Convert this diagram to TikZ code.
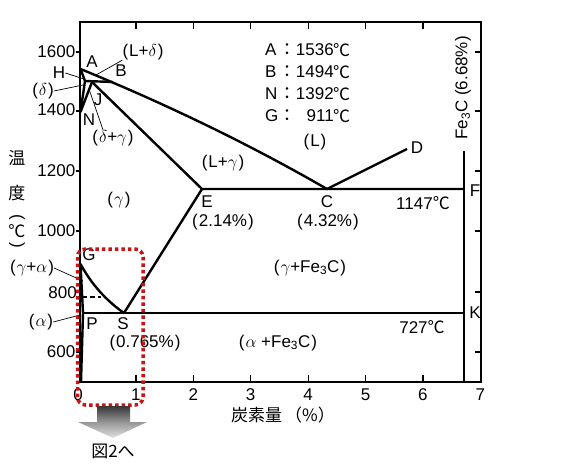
\documentclass[tikz,border=0pt]{standalone}
\usepackage{fontspec}
\setmainfont{Liberation Sans}
\newfontfamily\jp{Noto Sans CJK JP}
\definecolor{dred}{RGB}{200,20,20}
\definecolor{shaftTop}{RGB}{55,55,55}
\definecolor{shaftBot}{RGB}{150,150,150}
\definecolor{headTop}{RGB}{150,150,150}
\definecolor{headBot}{RGB}{225,225,225}
\begin{document}
\begin{tikzpicture}[x=1pt,y=-1pt,
  lbl/.style={inner sep=0pt, font=\fontsize{17}{19}\selectfont},
  jlbl/.style={inner sep=0pt, font=\fontsize{17}{19}\selectfont\jp},
  phase/.style={line width=2.4pt, line join=round},
  frame/.style={line width=2pt},
  tickmark/.style={line width=1.2pt},
  leader/.style={line width=0.7pt},
  atwo/.style={line width=1.3pt, dash pattern=on 5pt off 3pt},
  reddot/.style={draw=dred, line width=3.5pt, dash pattern=on 3.5pt off 3pt, rounded corners=8pt}]
\fill[white] (0,0) rectangle (565,471);
\useasboundingbox (0,0) rectangle (565,471);

% frame and ticks
\draw[frame] (79.5,22) rectangle (480.5,382);
\foreach \k in {1,...,6} {
  \draw[tickmark] ({78.5+57.4*\k},382) -- ++(0,-7);
  \draw[tickmark] ({78.5+57.4*\k},22) -- ++(0,7);
}
\foreach \yy in {52,111,171,231,292,352} {
  \draw[tickmark] (75.5,\yy) -- (79.5,\yy);
  \draw[tickmark] (480.5,\yy) -- (474.5,\yy);
}

% axis labels
\node[lbl, anchor=east] (t1600) at (75.5,52) {1600};
\node[lbl, anchor=east] (t1400) at (75.5,110) {1400};
\node[lbl, anchor=east] (t1200) at (75.5,171) {1200};
\node[lbl, anchor=east] (t1000) at (75.5,231) {1000};
\node[lbl, anchor=east] (t800) at (77,293) {800};
\node[lbl, anchor=east] (t600) at (75.5,352) {600};
\node[lbl] (x0) at (78,395) {0};
\node[lbl] (x1) at (135.9,395) {1};
\node[lbl] (x2) at (193.3,395) {2};
\node[lbl] (x3) at (250.7,395) {3};
\node[lbl] (x4) at (308.1,395) {4};
\node[lbl] (x5) at (365.5,395) {5};
\node[lbl] (x6) at (422.9,395) {6};
\node[lbl] (x7) at (480.3,395) {7};
\node[jlbl, anchor=west] (xtitle) at (231,415) {炭素量\kern3pt（\%）};
\node[jlbl] (yt1) at (17,158) {温};
\node[jlbl] (yt2) at (17,193) {度};
\node[lbl, rotate=-90] (yt3) at (17,217) {(};
\node[jlbl] (yt4) at (17,231) {℃};
\node[lbl, rotate=-90] (yt5) at (17,245) {)};

% legend
\node[lbl, anchor=west] (kA) at (265,50) {A};
\node[lbl, anchor=west] (kB) at (265,72) {B};
\node[lbl, anchor=west] (kN) at (265,94) {N};
\node[lbl, anchor=west] (kG) at (265,116) {G};
\node[jlbl] (cA) at (287,50) {：};
\node[jlbl] (cB) at (287,72) {：};
\node[jlbl] (cN) at (287,94) {：};
\node[jlbl] (cG) at (287,116) {：};
\node[lbl, anchor=east] (vA) at (334,50) {1536};
\node[lbl, anchor=east] (vB) at (334,72) {1494};
\node[lbl, anchor=east] (vN) at (334,94) {1392};
\node[lbl, anchor=east] (vG) at (334,116) {911};
\node[jlbl, anchor=west] (dA) at (333,50) {℃};
\node[jlbl, anchor=west] (dB) at (333,72) {℃};
\node[jlbl, anchor=west] (dN) at (333,94) {℃};
\node[jlbl, anchor=west] (dG) at (333,116) {℃};

% phase points
\coordinate (A) at (80.5,69);
\coordinate (H) at (85,81);
\coordinate (J) at (92,82);
\coordinate (B) at (113,82);
\coordinate (N) at (80.5,112);
\coordinate (C) at (327,189);
\coordinate (D) at (407,149);
\coordinate (E) at (202,189);
\coordinate (F) at (464,189);
\coordinate (G) at (80.5,264);
\coordinate (S) at (124,313);
\coordinate (P) at (83,313);
\coordinate (K) at (464,313);
\coordinate (Q) at (81,382);
\coordinate (Ftop) at (464,151);
\coordinate (Fbot) at (464,382);

% phase lines
\draw[phase] (A) .. controls (172.3,106.7) and (253.7,146.7) .. (C) -- (D);
\draw[phase] (A) -- (H) -- (B);
\draw[phase] (H) -- (N);
\draw[phase] (J) -- (N);
\draw[phase] (J) -- (E) -- (F);
\draw[phase] (G) .. controls (91.3,283.9) and (105.7,300.2) .. (S) -- (E);
\draw[phase] (P) -- (K);
\draw[phase] (Ftop) -- (Fbot);
\draw[phase] (G) -- (P) -- (Q);
\coordinate (a2s) at (82,297);
\coordinate (a2e) at (101,297);
\draw[atwo] (a2s) -- (a2e);

% point labels
\node[lbl] (lA) at (92,62) {A};
\node[lbl] (lB) at (121,71) {B};
\node[lbl] (lH) at (59,73) {H};
\node[lbl] (lJ) at (98,100) {J};
\node[lbl] (lN) at (89,120) {N};
\node[lbl] (lD) at (417,148) {D};
\node[lbl] (lE) at (207,202) {E};
\node[lbl] (lC) at (327,202) {C};
\node[lbl] (lF) at (475,191) {F};
\node[lbl] (lK) at (475,313) {K};
\node[lbl] (lG) at (89,255) {G};
\node[lbl] (lP) at (92,324) {P};
\node[lbl] (lS) at (123,324) {S};

% region labels
\node[lbl] (rLd) at (143,52) {(\kern1pt L+$\delta$\kern1pt)};
\node[lbl] (rd) at (43,91) {(\kern1pt$\delta$\kern1pt)};
\node[lbl] (rdg) at (113,138) {(\kern1pt$\delta$+$\gamma$\kern1pt)};
\node[lbl] (rL) at (315,142) {(\kern1pt L\kern1pt)};
\node[lbl] (rLg) at (223,163) {(\kern1pt L+$\gamma$\kern1pt)};
\node[lbl] (rg) at (119,200) {(\kern1pt$\gamma$\kern1pt)};
\node[lbl] (rgF) at (310,268) {(\kern1pt$\gamma$+Fe\textsubscript{3}C\kern1pt)};
\node[lbl] (rga) at (32,268) {(\kern1pt$\gamma$+$\alpha$\kern1pt)};
\node[lbl] (ra) at (41,322) {(\kern1pt$\alpha$\kern1pt)};
\node[lbl] (raF) at (278,343) {(\kern1pt$\alpha$ +Fe\textsubscript{3}C\kern1pt)};
\node[lbl] (pE) at (223,222) {(\kern1pt 2.14\%\kern1pt)};
\node[lbl] (pC) at (328,222) {(\kern1pt 4.32\%\kern1pt)};
\node[lbl] (pS) at (145,343) {(\kern1pt 0.765\%\kern1pt)};
\node[lbl] (t1147) at (423,203) {1147{\jp ℃}};
\node[lbl] (t727) at (422,327) {727{\jp ℃}};
\node[lbl, rotate=90] (fe3c) at (463,88) {Fe\textsubscript{3}C (6.68\%)};

% leaders
\coordinate (eLd) at (96,75);
\coordinate (eH) at (84,79);
\coordinate (ed) at (83,85);
\coordinate (edg) at (89,89);
\coordinate (ega) at (83,281);
\coordinate (ea) at (80,315);
\draw[leader] (rLd.south west) -- (eLd);
\draw[leader] (lH.east) -- (eH);
\draw[leader] (rd.east) -- (ed);
\draw[leader] ([xshift=-10pt]rdg.north) -- (edg);
\draw[leader] (rga.east) -- (ega);
\draw[leader] (ra.east) -- (ea);

% highlight and arrow
\draw[reddot] (77.5,249) rectangle (143,405);
\shade[top color=shaftTop, bottom color=shaftBot] (97,406) rectangle (130,422);
\shade[top color=headTop, bottom color=headBot] (78,422) -- (147,422) -- (113,438) -- cycle;
\node[jlbl] (fig2) at (113,451) {図2へ};
\end{tikzpicture}
\end{document}
